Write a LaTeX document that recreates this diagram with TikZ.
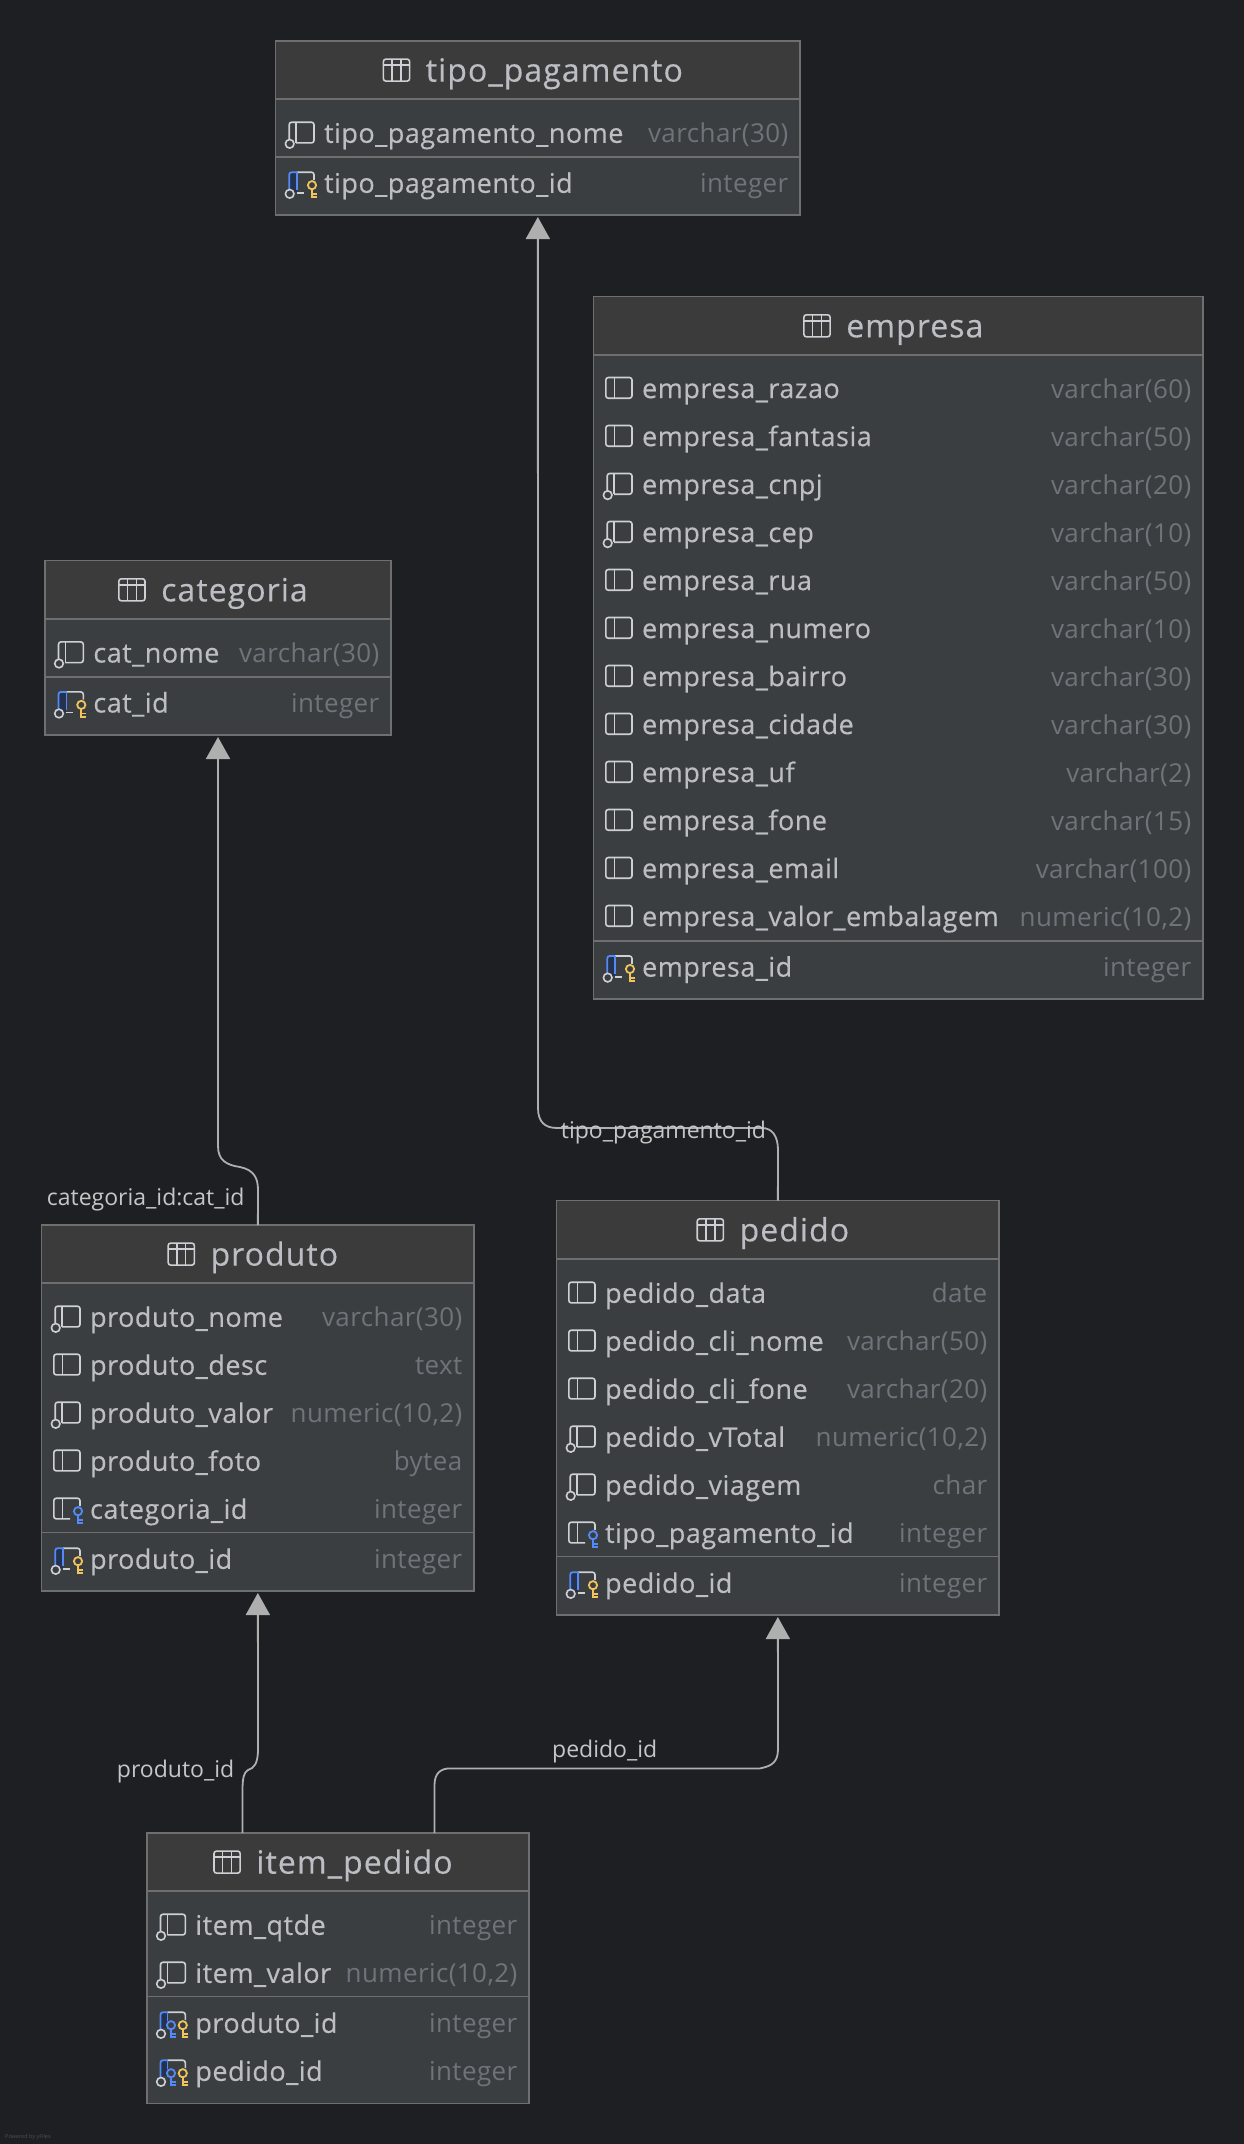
\documentclass[tikz,border=0pt]{standalone}
\usepackage{fontspec}
\setmainfont{Open Sans}
\newfontfamily\titlefam[LetterSpace=3.3,FakeBold=0.3]{Open Sans}
\newfontfamily\namefam[LetterSpace=1.8,FakeBold=0.3]{Open Sans}
\newfontfamily\typefam[LetterSpace=1.6]{Open Sans}
\usetikzlibrary{arrows.meta}
\definecolor{bgc}{HTML}{1E1F22}
\definecolor{bodyc}{HTML}{3B3E41}
\definecolor{headc}{HTML}{3C3B3B}
\definecolor{borderc}{HTML}{6F6F6F}
\definecolor{namec}{HTML}{BCBEC4}
\definecolor{typec}{HTML}{6F737A}
\definecolor{connc}{HTML}{AFAFAF}
\definecolor{labelc}{HTML}{C6C6C6}
\definecolor{iconc}{HTML}{CED0D6}
\definecolor{bluec}{HTML}{548AF7}
\definecolor{navyc}{HTML}{25324D}
\definecolor{keyc}{HTML}{F2C55C}
\newcommand{\titlefont}{\titlefam\fontsize{32}{36}\selectfont}
\newcommand{\namefont}{\namefam\fontsize{27}{30}\selectfont}
\newcommand{\typefont}{\typefam\fontsize{26}{30}\selectfont}
\newcommand{\labelfont}{\fontsize{23}{26}\selectfont}
\tikzset{
  box/.style={rectangle,draw=borderc,line width=1.4pt,inner sep=0pt,outer sep=0pt},
  titletext/.style={anchor=base,inner sep=0pt,text=namec,font=\titlefont},
  nametext/.style={anchor=base west,inner sep=0pt,text=namec,font=\namefont},
  typetext/.style={anchor=base east,inner sep=0pt,text=typec,font=\typefont},
  labeltext/.style={inner sep=0pt,text=labelc,font=\labelfont},
  sepline/.style={draw=borderc,line width=1.6pt},
  iconline/.style={draw=iconc,line width=1.6pt,rounded corners=2.5pt},
  blueline/.style={draw=bluec,line width=1.8pt,rounded corners=2.5pt},
  conn/.style={draw=connc,line width=1.8pt,-{Triangle[length=22pt,width=24pt,fill=connc]}},
}
% key icon: colour, x
\newcommand{\keyic}[2]{%
  \draw[#1,line width=1.8pt] (#2,2.2) circle (4.1);
  \draw[#1,line width=1.8pt] (#2,6.3) -- (#2,15) (#2,10.8) -- (#2+5,10.8) (#2,14.2) -- (#2+5,14.2);}
\newcommand{\ringic}{\draw[iconc,line width=1.6pt,fill=bodyc] (2.7,10.8) circle (4.3);}
\newcommand{\icplain}[2]{\begin{scope}[shift={(#1,#2)}]
  \draw[iconline] (0.8,-10.8) rectangle (27,9.9);
  \draw[iconline] (9.5,-10.8) -- (9.5,9.9);
\end{scope}}
\newcommand{\icnull}[2]{\begin{scope}[shift={(#1,#2)}]
  \draw[iconline] (2.2,7) -- (2.2,-10.8) -- (27,-10.8) -- (27,9.9) -- (9,9.9);
  \draw[iconline] (9,-10.8) -- (9,9.9);
  \ringic
\end{scope}}
\newcommand{\icpk}[2]{\begin{scope}[shift={(#1,#2)}]
  \fill[navyc] (2.2,-10.8) rectangle (10,9);
  \draw[iconline] (10,-10.8) -- (27,-10.8) -- (27,-3);
  \draw[iconc,line width=1.6pt] (10,9.9) -- (17,9.9);
  \draw[blueline] (2.2,7) -- (2.2,-10.8) -- (10,-10.8);
  \draw[bluec,line width=1.6pt] (10,-10.8) -- (10,7);
  \ringic
  \keyic{keyc}{25}
\end{scope}}
\newcommand{\icfk}[2]{\begin{scope}[shift={(#1,#2)}]
  \draw[iconline] (27,-3) -- (27,-10.8) -- (0.8,-10.8) -- (0.8,9.9) -- (17,9.9);
  \draw[iconc,line width=1.6pt] (9.5,-10.8) -- (9.5,9.9);
  \keyic{bluec}{25}
\end{scope}}
\newcommand{\iccomp}[2]{\begin{scope}[shift={(#1,#2)}]
  \fill[navyc] (2.2,-10.8) rectangle (9,5);
  \draw[iconline] (9,-10.8) -- (27,-10.8) -- (27,-3);
  \draw[blueline] (2.2,7) -- (2.2,-10.8) -- (9,-10.8);
  \draw[bluec,line width=1.6pt] (9,-10.8) -- (9,-2);
  \ringic
  \keyic{bluec}{12.7}
  \keyic{keyc}{24.5}
\end{scope}}
% table: id, x1, y1, x2, y2, header separator y, title
\newcommand{\tbl}[7]{%
  \pgfmathsetmacro{\cx}{(#2+#4)/2}%
  \pgfmathsetmacro{\bw}{#4-#2}%
  \pgfmathsetmacro{\bh}{#5-#3}%
  \pgfmathsetmacro{\cy}{(#3+#5)/2}%
  \pgfmathsetmacro{\tx}{\cx+16.5}%
  \pgfmathsetmacro{\ty}{#3+40.6}%
  \xdef\tabL{#2}\xdef\tabR{#4}%
  \node[box,fill=bodyc,minimum width=\bw pt,minimum height=\bh pt] (#1) at (\cx,\cy) {};
  \fill[headc] (#2,#3) rectangle (#4,#6);
  \draw[draw=borderc,line width=1.4pt] (#2,#3) rectangle (#4,#5);
  \draw[sepline] (#2,#6) -- (#4,#6);
  \node[titletext] (#1-title) at (\tx,\ty) {#7};
  \coordinate (#1-ic) at ([xshift=-43pt]#1-title.base west);
  \begin{scope}[shift={(#1-ic)}]
    \draw[iconline] (0.8,-22.5) rectangle (27,-0.5);
    \draw[iconline,rounded corners=0pt] (0.8,-16.5) -- (27,-16.5) (9.5,-22.5) -- (9.5,-0.5) (18.3,-22.5) -- (18.3,-0.5);
  \end{scope}
}
% field: id, kind, row centre y, name, type
\newcommand{\fld}[5]{%
  \pgfmathsetmacro{\ix}{\tabL+11.3}%
  \pgfmathsetmacro{\nx}{\tabL+48.2}%
  \pgfmathsetmacro{\rx}{\tabR-11.5}%
  \pgfmathsetmacro{\by}{#3+9.8}%
  \csname ic#2\endcsname{\ix}{#3}
  \node[nametext] (#1-n) at (\nx,\by) {#4};
  \node[typetext] (#1-t) at (\rx,\by) {#5};
}
\begin{document}
\begin{tikzpicture}[x=1pt,y=-1pt]
\fill[bgc] (0,0) rectangle (1244,2144);
\useasboundingbox (0,0) rectangle (1244,2144);

\tbl{tp}{275.7}{41}{800}{215}{99}{tipo\_pagamento}
\fld{tp1}{null}{133}{tipo\_pagamento\_nome}{varchar(30)}
\draw[sepline] (275.7,157) -- (800,157);
\fld{tp2}{pk}{183}{tipo\_pagamento\_id}{integer}

\tbl{em}{593.7}{296.7}{1203}{999}{355}{empresa}
\fld{em1}{plain}{388.3}{empresa\_razao}{varchar(60)}
\fld{em2}{plain}{436.3}{empresa\_fantasia}{varchar(50)}
\fld{em3}{null}{484.3}{empresa\_cnpj}{varchar(20)}
\fld{em4}{null}{532.3}{empresa\_cep}{varchar(10)}
\fld{em5}{plain}{580.3}{empresa\_rua}{varchar(50)}
\fld{em6}{plain}{628.3}{empresa\_numero}{varchar(10)}
\fld{em7}{plain}{676.3}{empresa\_bairro}{varchar(30)}
\fld{em8}{plain}{724.3}{empresa\_cidade}{varchar(30)}
\fld{em9}{plain}{772.3}{empresa\_uf}{varchar(2)}
\fld{em10}{plain}{820.3}{empresa\_fone}{varchar(15)}
\fld{em11}{plain}{868.3}{empresa\_email}{varchar(100)}
\fld{em12}{plain}{916.3}{empresa\_valor\_embalagem}{numeric(10,2)}
\draw[sepline] (593.7,940.7) -- (1203,940.7);
\fld{em13}{pk}{966.8}{empresa\_id}{integer}

\tbl{ca}{45}{560.7}{391}{735}{619}{categoria}
\fld{ca1}{null}{652.7}{cat\_nome}{varchar(30)}
\draw[sepline] (45,677) -- (391,677);
\fld{ca2}{pk}{702.7}{cat\_id}{integer}

\tbl{pr}{41.7}{1225}{474}{1591}{1283}{produto}
\fld{pr1}{null}{1317}{produto\_nome}{varchar(30)}
\fld{pr2}{plain}{1365}{produto\_desc}{text}
\fld{pr3}{null}{1413}{produto\_valor}{numeric(10,2)}
\fld{pr4}{plain}{1461}{produto\_foto}{bytea}
\fld{pr5}{fk}{1509}{categoria\_id}{integer}
\draw[sepline] (41.7,1532.5) -- (474,1532.5);
\fld{pr6}{pk}{1559}{produto\_id}{integer}

\tbl{pe}{556.7}{1200.7}{999}{1615}{1259}{pedido}
\fld{pe1}{plain}{1293}{pedido\_data}{date}
\fld{pe2}{plain}{1341}{pedido\_cli\_nome}{varchar(50)}
\fld{pe3}{plain}{1389}{pedido\_cli\_fone}{varchar(20)}
\fld{pe4}{null}{1437}{pedido\_vTotal}{numeric(10,2)}
\fld{pe5}{null}{1485}{pedido\_viagem}{char}
\fld{pe6}{fk}{1533}{tipo\_pagamento\_id}{integer}
\draw[sepline] (556.7,1556.5) -- (999,1556.5);
\fld{pe7}{pk}{1583}{pedido\_id}{integer}

\tbl{it}{147}{1833}{529}{2103.5}{1891}{item\_pedido}
\fld{it1}{null}{1925}{item\_qtde}{integer}
\fld{it2}{null}{1973}{item\_valor}{numeric(10,2)}
\draw[sepline] (147,1996.5) -- (529,1996.5);
\fld{it3}{comp}{2023}{produto\_id}{integer}
\fld{it4}{comp}{2071}{pedido\_id}{integer}

% connectors
\draw[conn] (pr.north) -- (258,1190) .. controls (258,1178) and (254,1170) .. (240,1167) .. controls (226,1165) and (218,1160) .. (218,1146) -- ([yshift=-2pt]ca.south);
\draw[conn] (pe.north) -- (778,1150) .. controls (778,1136) and (772,1128) .. (762,1128) -- (557,1128) .. controls (545,1128) and (538,1122) .. (538,1108) -- ([yshift=-2pt]tp.south);
\draw[conn] ([xshift=-95.5pt]it.north) -- (242.5,1790) .. controls (242.5,1778) and (244,1772) .. (248,1770) .. controls (254,1768) and (258,1764) .. (258,1749) -- ([yshift=-2pt]pr.south);
\draw[conn] ([xshift=96.5pt]it.north) -- (434.5,1785) .. controls (434.5,1773) and (441,1768.4) .. (450,1768.4) -- (760,1768.4) .. controls (772,1766) and (778,1762) .. (778,1749) -- ([yshift=-2pt]pe.south);

% labels
\node[labeltext,anchor=base west] (l1) at (46.7,1205.5) {categoria\_id:cat\_id};
\node[labeltext,anchor=base west] (l2) at (560.7,1138) {tipo\_pagamento\_id};
\node[labeltext,anchor=base east] (l3) at (234.5,1777.5) {produto\_id};
\node[labeltext,anchor=base west] (l4) at (552,1757.5) {pedido\_id};
\node[anchor=base west,inner sep=0pt,text=black!40!bgc!75!white,font=\fontsize{5.5}{6}\selectfont] (wm) at (5,2138) {Powered by yFiles};
\end{tikzpicture}
\end{document}
